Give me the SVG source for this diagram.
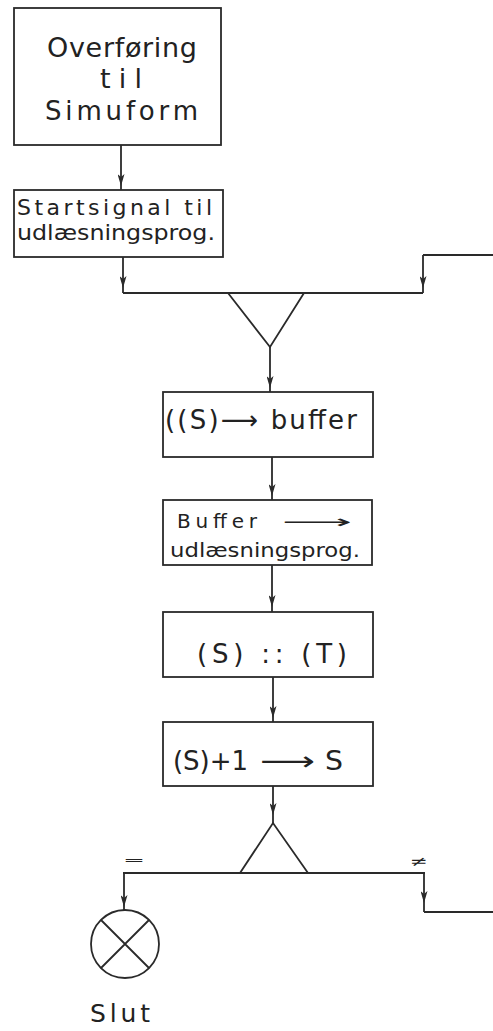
<svg xmlns="http://www.w3.org/2000/svg" width="493" height="1031" viewBox="0 0 493 1031">
<defs>
<marker id="ah" viewBox="0 0 12 7" refX="12" refY="3.5" markerWidth="12" markerHeight="7" markerUnits="userSpaceOnUse" orient="auto">
<path d="M0,0 L12,3.5 L0,7 L3,3.5 Z" fill="#2a2a2a"/>
</marker>
<style>
.box{fill:none;stroke:#2a2a2a;stroke-width:1.8}
.ln{fill:none;stroke:#2a2a2a;stroke-width:1.8}
.ar{fill:none;stroke:#2a2a2a;stroke-width:1.8;marker-mid:url(#ah)}
text{font-family:"DejaVu Sans","Liberation Sans",sans-serif;fill:#222}
</style>
</defs>
<rect width="493" height="1031" fill="#fff"/>

<g id="n1">
<rect class="box" x="14" y="8" width="207" height="137"/>
<text x="47" y="57" font-size="27" textLength="150" lengthAdjust="spacing">Overføring</text>
<text x="100" y="88" font-size="27" textLength="42" lengthAdjust="spacing">til</text>
<text x="45" y="120" font-size="26" textLength="153" lengthAdjust="spacing">Simuform</text>
</g>

<g id="n2">
<rect class="box" x="14" y="190" width="209" height="67"/>
<text x="17" y="215" font-size="22" textLength="195" lengthAdjust="spacing">Startsignal til</text>
<text x="17" y="240" font-size="21" textLength="198" lengthAdjust="spacingAndGlyphs">udlæsningsprog.</text>
</g>

<g id="n3">
<rect class="box" x="163" y="392" width="210" height="65"/>
<text x="165" y="429" font-size="26" textLength="192" lengthAdjust="spacing">((S)⟶ buffer</text>
</g>

<g id="n4">
<rect class="box" x="163" y="500" width="209" height="65"/>
<text x="177" y="528" font-size="20" textLength="80" lengthAdjust="spacing">Buffer</text>
<text x="282" y="528" font-size="18" textLength="70" lengthAdjust="spacingAndGlyphs">⟶</text>
<text x="170" y="557" font-size="19" textLength="190" lengthAdjust="spacingAndGlyphs">udlæsningsprog.</text>
</g>

<g id="n5">
<rect class="box" x="163" y="612" width="210" height="65"/>
<text x="197" y="663" font-size="26" textLength="150" lengthAdjust="spacing">(S) :: (T)</text>
</g>

<g id="n6">
<rect class="box" x="163" y="722" width="210" height="64"/>
<text x="173" y="770" font-size="26" textLength="75" lengthAdjust="spacing">(S)+1</text>
<text x="260" y="770" font-size="26" textLength="55" lengthAdjust="spacingAndGlyphs">⟶</text>
<text x="325" y="770" font-size="26" textLength="18" lengthAdjust="spacingAndGlyphs">S</text>
</g>

<g id="merge">
<path class="ln" d="M228,293 L270,347 L304,293"/>
</g>

<g id="branch">
<path class="ln" d="M240,873 L273,823 L308,873"/>
</g>

<g id="end">
<circle class="ln" cx="125" cy="944" r="34"/>
<path class="ln" d="M101,920 L149,968 M149,920 L101,968"/>
<text x="90" y="1022" font-size="25" textLength="60" lengthAdjust="spacing">Slut</text>
</g>

<g id="connectors">
<path class="ar" d="M121,145 L121,186 L121,190"/>
<path class="ar" d="M123,257 L123,288 L123,293"/>
<path class="ar" d="M423,255 L423,288 L423,293"/>
<path class="ln" d="M493,255 L423,255"/>
<path class="ln" d="M123,293 L423,293"/>
<path class="ar" d="M270,347 L270,388 L270,392"/>
<path class="ar" d="M272,457 L272,496 L272,500"/>
<path class="ar" d="M272,565 L272,607 L272,612"/>
<path class="ar" d="M273,677 L273,718 L273,722"/>
<path class="ar" d="M273,786 L273,815 L273,823"/>
<path class="ln" d="M123,873 L425,873"/>
<path class="ar" d="M124,873 L124,907 L124,910"/>
<path class="ar" d="M424,873 L424,903 L424,912"/>
<path class="ln" d="M424,912 L493,912"/>
<text x="123" y="864" font-size="12" textLength="22" lengthAdjust="spacingAndGlyphs">=</text>
<text x="410" y="866" font-size="14" textLength="18" lengthAdjust="spacingAndGlyphs">≠</text>
</g>
</svg>
